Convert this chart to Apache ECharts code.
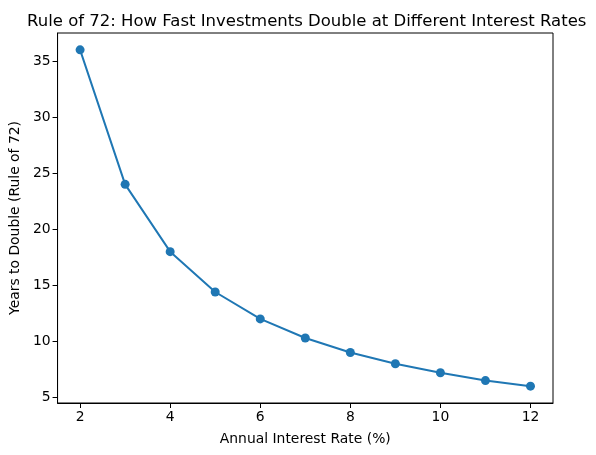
<!DOCTYPE html>
<html>
<head>
<meta charset="utf-8">
<script src="https://cdn.jsdelivr.net/npm/echarts@6/dist/echarts.min.js"></script>
<style>
  html, body { margin: 0; padding: 0; background: #fff; }
  #chart-container { width: 596px; height: 455px; }
</style>
</head>
<body>
<div id="chart-container"></div>
<script>
// values
const rates = [2, 3, 4, 5, 6, 7, 8, 9, 10, 11, 12];
const years = [36, 24, 18, 14.4, 12, 10.3, 9, 8, 7.2, 6.5, 6];
const xTicks = [2, 4, 6, 8, 10, 12];
const yTicks = [5, 10, 15, 20, 25, 30, 35];

const font = 'DejaVu Sans';
const data = rates.map((r, i) => [r, years[i]]);

const chart = echarts.init(document.getElementById('chart-container'));
chart.setOption({
    animation: false,
    title: {
        text: 'Rule of 72: How Fast Investments Double at Different Interest Rates',
        left: 22,
        top: 8,
        textStyle: { fontFamily: font, fontSize: 16.5, fontWeight: 'normal', color: '#000' }
    },
    grid: {
        left: 56, right: 43, top: 33, bottom: 52,
        show: true, borderColor: '#000', borderWidth: 1, backgroundColor: 'transparent'
    },
    xAxis: {
        type: 'value',
        min: 1.5,
        max: 12.5,
        name: 'Annual Interest Rate (%)',
        nameLocation: 'middle',
        nameGap: 29,
        nameTextStyle: { fontFamily: font, fontSize: 13.9, color: '#000' },
        splitLine: { show: false },
        axisLine: { show: true, lineStyle: { color: '#000', width: 1 } },
        axisTick: { show: true, length: 5, lineStyle: { color: '#000' }, customValues: xTicks },
        axisLabel: { fontFamily: font, fontSize: 13.9, color: '#000', margin: 7, customValues: xTicks }
    },
    yAxis: {
        type: 'value',
        min: 4.5,
        max: 37.5,
        name: 'Years to Double (Rule of 72)',
        nameLocation: 'middle',
        nameGap: 32,
        nameTextStyle: { fontFamily: font, fontSize: 13.9, color: '#000' },
        splitLine: { show: false },
        axisLine: { show: true, lineStyle: { color: '#000', width: 1 } },
        axisTick: { show: true, length: 5, lineStyle: { color: '#000' }, customValues: yTicks },
        axisLabel: { fontFamily: font, fontSize: 13.9, color: '#000', margin: 7, customValues: yTicks }
    },
    series: [{
        type: 'line',
        data: data,
        symbol: 'circle',
        symbolSize: 9,
        showAllSymbol: true,
        itemStyle: { color: '#1f77b4' },
        lineStyle: { color: '#1f77b4', width: 2 }
    }]
});
</script>
</body>
</html>
